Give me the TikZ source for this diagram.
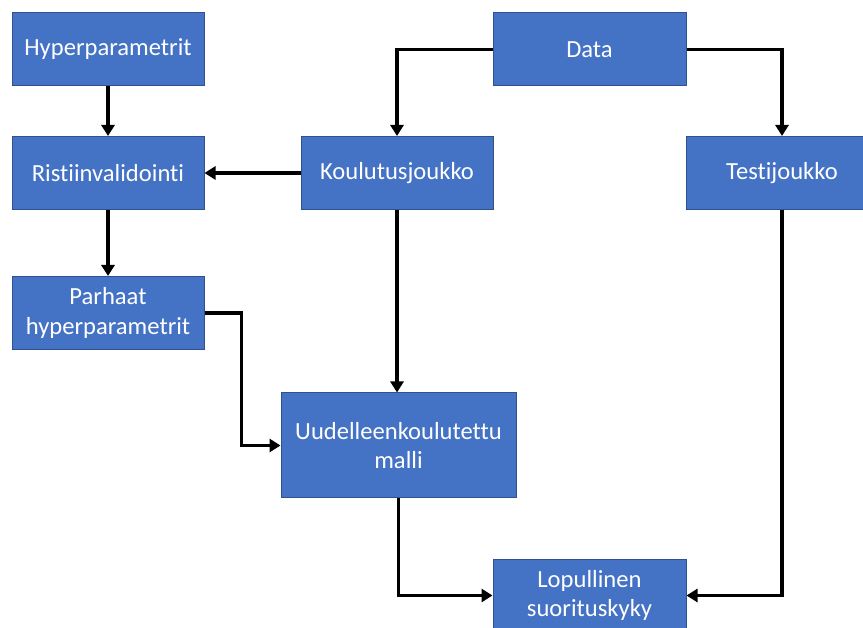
\documentclass[tikz,border=0pt]{standalone}
\usepackage{fontspec}
\setmainfont{Carlito}[Ligatures=CommonOff]
\usetikzlibrary{arrows.meta,calc}
\definecolor{boxfill}{HTML}{4472C4}
\definecolor{boxline}{HTML}{2F528F}
\tikzset{
  box/.style={draw=boxline, line width=1pt, fill=boxfill, text=white, align=center,
    font=\fontsize{24.6}{29.5}\selectfont, inner sep=0pt, minimum width=192pt, minimum height=73pt},
  conn/.style={line width=3.5pt, -{Triangle[length=11pt,width=13pt]}, line join=miter}
}
\begin{document}
\begin{tikzpicture}[x=1pt,y=-1pt]
\useasboundingbox (0,0) rectangle (863,628);
\clip (0,0) rectangle (863,628);
\fill[white] (0,0) rectangle (863,628);
\node[box] (hyp) at (108,49.5) {Hyperparametrit};
\node[box, minimum width=193pt] (data) at (589.5,49.5) {Data};
\node[box] (risti) at (108,173) {Ristiinvalidointi};
\node[box] (koul) at (397,173) {Koulutusjoukko};
\node[box] (testi) at (782,173) {Testijoukko};
\node[box] (parh) at (108,313) {Parhaat\\hyperparametrit};
\node[box, minimum width=235pt, minimum height=105pt] (uud) at (398.5,445.5) {Uudelleenkoulutettu\\malli};
\node[box, minimum width=193pt] (lop) at (589.5,595.5) {Lopullinen\\suorituskyky};
\draw[conn] (hyp.south) -- (risti.north);
\draw[conn] (data.west) -| (koul.north);
\draw[conn] (data.east) -| (testi.north);
\draw[conn] (koul.west) -- (risti.east);
\draw[conn] (risti.south) -- (parh.north);
\draw[conn] (parh.east) -- ++(37,0) |- (uud.west);
\draw[conn] (koul.south) -- (koul.south |- uud.north);
\draw[conn] (uud.south) |- (lop.west);
\draw[conn] (testi.south) |- (lop.east);
\end{tikzpicture}
\end{document}
